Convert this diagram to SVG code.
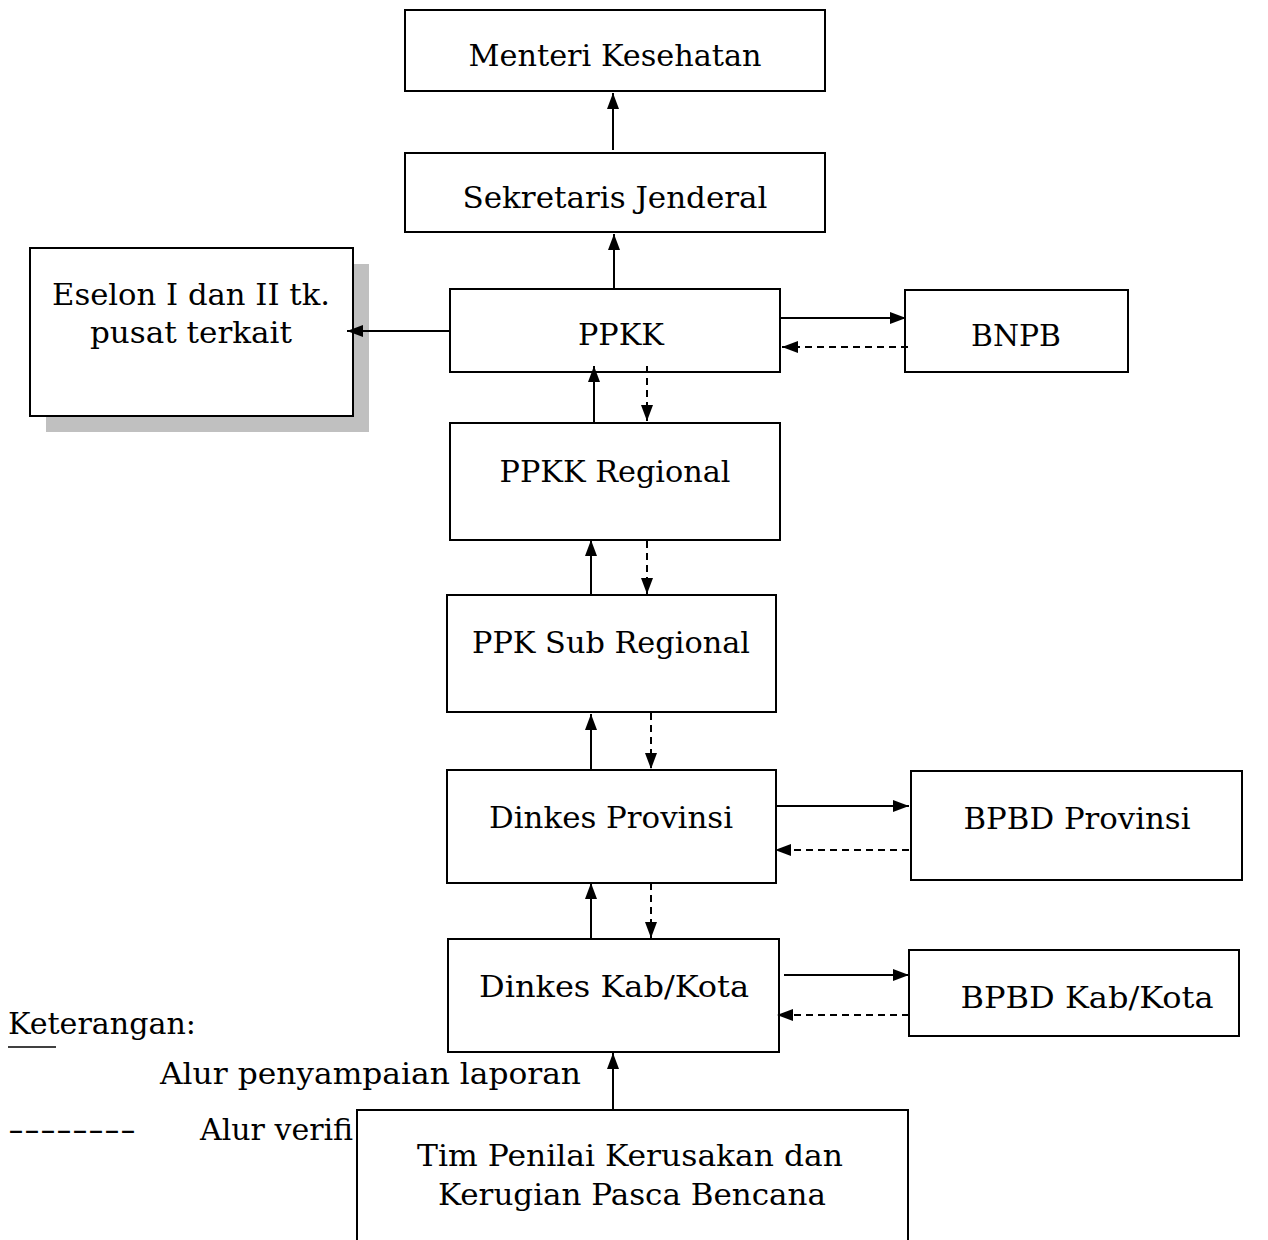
<svg xmlns="http://www.w3.org/2000/svg" width="1268" height="1240" viewBox="0 0 1268 1240">
<defs>
<style>
.box{fill:#fff;stroke:#000;stroke-width:2}
.t{font-family:"DejaVu Serif","Liberation Serif",serif;font-size:30px;fill:#000;text-anchor:middle}
.l{font-family:"DejaVu Serif","Liberation Serif",serif;font-size:30px;fill:#000}
.s{stroke:#000;stroke-width:2;fill:none}
.d{stroke:#000;stroke-width:2;fill:none;stroke-dasharray:7,5}
</style>
<marker id="a" viewBox="0 0 16 12" refX="16" refY="6" markerWidth="16" markerHeight="12" markerUnits="userSpaceOnUse" orient="auto">
<path d="M0,0 L16,6 L0,12 z" fill="#000"/>
</marker>
</defs>
<rect width="1268" height="1240" fill="#fff"/>

<g id="legend">
<text class="l" x="8" y="1034" textLength="188" lengthAdjust="spacingAndGlyphs">Keterangan:</text>
<line x1="8" y1="1047" x2="56" y2="1047" stroke="#000" stroke-width="1.5"/>
<text class="l" x="160" y="1084" textLength="421" lengthAdjust="spacingAndGlyphs">Alur penyampaian laporan</text>
<text class="l" x="8" y="1140" textLength="128" lengthAdjust="spacingAndGlyphs">--------</text>
<text class="l" x="200" y="1140">Alur verifi</text>
</g>

<g id="menteri">
<rect class="box" x="405" y="10" width="420" height="81"/>
<text class="t" x="615" y="66" textLength="293" lengthAdjust="spacingAndGlyphs">Menteri Kesehatan</text>
</g>
<g id="sekjen">
<rect class="box" x="405" y="153" width="420" height="79"/>
<text class="t" x="615" y="208" textLength="305" lengthAdjust="spacingAndGlyphs">Sekretaris Jenderal</text>
</g>
<g id="eselon">
<rect x="46" y="264" width="323" height="168" fill="#c0c0c0"/>
<rect class="box" x="30" y="248" width="323" height="168"/>
<text class="t" x="191" y="305" textLength="278" lengthAdjust="spacingAndGlyphs">Eselon I dan II tk.</text>
<text class="t" x="191" y="343" textLength="202" lengthAdjust="spacingAndGlyphs">pusat terkait</text>
</g>
<g id="ppkk">
<rect class="box" x="450" y="289" width="330" height="83"/>
<text class="t" x="621" y="345" textLength="86" lengthAdjust="spacingAndGlyphs">PPKK</text>
</g>
<g id="bnpb">
<rect class="box" x="905" y="290" width="223" height="82"/>
<text class="t" x="1016" y="346" textLength="90" lengthAdjust="spacingAndGlyphs">BNPB</text>
</g>
<g id="ppkk-regional">
<rect class="box" x="450" y="423" width="330" height="117"/>
<text class="t" x="615" y="482" textLength="231" lengthAdjust="spacingAndGlyphs">PPKK Regional</text>
</g>
<g id="ppk-sub-regional">
<rect class="box" x="447" y="595" width="329" height="117"/>
<text class="t" x="611" y="653" textLength="278" lengthAdjust="spacingAndGlyphs">PPK Sub Regional</text>
</g>
<g id="dinkes-provinsi">
<rect class="box" x="447" y="770" width="329" height="113"/>
<text class="t" x="611" y="828" textLength="244" lengthAdjust="spacingAndGlyphs">Dinkes Provinsi</text>
</g>
<g id="bpbd-provinsi">
<rect class="box" x="911" y="771" width="331" height="109"/>
<text class="t" x="1077" y="829" textLength="227" lengthAdjust="spacingAndGlyphs">BPBD Provinsi</text>
</g>
<g id="dinkes-kab">
<rect class="box" x="448" y="939" width="331" height="113"/>
<text class="t" x="614" y="997" textLength="270" lengthAdjust="spacingAndGlyphs">Dinkes Kab/Kota</text>
</g>
<g id="bpbd-kab">
<rect class="box" x="909" y="950" width="330" height="86"/>
<text class="t" x="1087" y="1008" textLength="253" lengthAdjust="spacingAndGlyphs">BPBD Kab/Kota</text>
</g>
<g id="tim-penilai">
<rect class="box" x="357" y="1110" width="551" height="140"/>
<text class="t" x="630" y="1166" textLength="426" lengthAdjust="spacingAndGlyphs">Tim Penilai Kerusakan dan</text>
<text class="t" x="632" y="1205" textLength="388" lengthAdjust="spacingAndGlyphs">Kerugian Pasca Bencana</text>
</g>

<g id="connectors">
<line class="s" x1="613" y1="150" x2="613" y2="93" marker-end="url(#a)"/>
<line class="s" x1="614" y1="288" x2="614" y2="234" marker-end="url(#a)"/>
<line class="s" x1="450" y1="331" x2="347" y2="331" marker-end="url(#a)"/>
<line class="s" x1="781" y1="318" x2="906" y2="318" marker-end="url(#a)"/>
<line class="d" x1="908" y1="347" x2="782" y2="347" marker-end="url(#a)"/>
<line class="s" x1="594" y1="422" x2="594" y2="366" marker-end="url(#a)"/>
<line class="d" x1="647" y1="366" x2="647" y2="421" marker-end="url(#a)"/>
<line class="s" x1="591" y1="594" x2="591" y2="540" marker-end="url(#a)"/>
<line class="d" x1="647" y1="541" x2="647" y2="594" marker-end="url(#a)"/>
<line class="s" x1="591" y1="769" x2="591" y2="714" marker-end="url(#a)"/>
<line class="d" x1="651" y1="713" x2="651" y2="769" marker-end="url(#a)"/>
<line class="s" x1="775" y1="806" x2="909" y2="806" marker-end="url(#a)"/>
<line class="d" x1="909" y1="850" x2="775" y2="850" marker-end="url(#a)"/>
<line class="s" x1="591" y1="938" x2="591" y2="883" marker-end="url(#a)"/>
<line class="d" x1="651" y1="883" x2="651" y2="938" marker-end="url(#a)"/>
<line class="s" x1="784" y1="975" x2="909" y2="975" marker-end="url(#a)"/>
<line class="d" x1="909" y1="1015" x2="777" y2="1015" marker-end="url(#a)"/>
<line class="s" x1="613" y1="1110" x2="613" y2="1053" marker-end="url(#a)"/>
</g>
</svg>
